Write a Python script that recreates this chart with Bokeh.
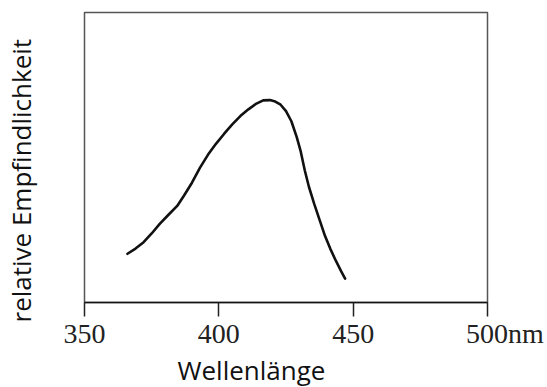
from bokeh.plotting import figure
from bokeh.models import Range1d, LinearAxis, FixedTicker, Title
from bokeh.embed import file_html
from bokeh.resources import INLINE

# data
wavelength_nm = [366, 369, 372, 375, 378, 381, 384.5, 387, 390, 393, 396, 399,
                 402, 405, 408, 411, 414, 416.5, 419, 421, 423, 425, 427, 429,
                 430.5, 432, 433.5, 435.5, 437.5, 439.5, 441.5, 443.5, 445.5, 447]
sensitivity = [16.8, 18.6, 20.8, 23.8, 27.1, 30.0, 33.3, 36.8, 41.3, 46.5, 51.0, 54.8,
               58.2, 61.4, 64.3, 66.6, 68.6, 69.7, 69.8, 69.3, 68.2, 66.0, 62.5, 57.0,
               52.0, 45.5, 40.0, 34.0, 28.5, 23.0, 18.5, 14.5, 10.8, 8.2]
tick_values = [350, 400, 450, 500]
tick_labels = ["350", "400", "450", "\u00a0" * 5 + "500nm"]
x_title = "Wellenlänge"
y_title = "relative Empfindlichkeit"

p = figure(frame_width=403, frame_height=290,
           min_border_left=84, min_border_right=60,
           min_border_top=12, min_border_bottom=84,
           x_range=Range1d(350, 500), y_range=Range1d(0, 100),
           x_axis_location=None, y_axis_location=None,
           output_backend="svg", toolbar_location=None)
p.grid.visible = False
p.outline_line_color = "#555555"
p.outline_line_width = 1.5
p.background_fill_color = "white"
p.border_fill_color = "white"

xaxis = LinearAxis(ticker=FixedTicker(ticks=tick_values),
                   major_label_overrides={t: l for t, l in zip(tick_values, tick_labels)},
                   major_tick_out=14, major_tick_in=0,
                   minor_tick_out=0, minor_tick_in=0,
                   axis_line_color="#111111", axis_line_width=1.5,
                   major_tick_line_color="#222222", major_tick_line_width=1.5,
                   major_label_text_font="Liberation Serif",
                   major_label_text_font_size="28px",
                   major_label_text_color="#222222",
                   major_label_standoff=1)
p.add_layout(xaxis, "below")

# left axis without visible ticks; its tick length only spaces the y title off the frame
spacer = LinearAxis(ticker=FixedTicker(ticks=[0]), major_label_overrides={0: ""},
                    major_tick_out=46, major_tick_in=0,
                    minor_tick_out=0, minor_tick_in=0, axis_line_color=None,
                    major_tick_line_color=None, minor_tick_line_color=None,
                    major_label_standoff=0, major_label_text_font_size="1px")
p.add_layout(spacer, "left")

p.add_layout(Title(text=y_title, align="left", offset=-20, vertical_align="bottom",
                   standoff=0, text_font="Open Sans", text_font_size="26px",
                   text_font_style="normal", text_color="#111111"), "left")

p.add_layout(Title(text=x_title, align="left", offset=93, vertical_align="top",
                   standoff=0, text_font="Open Sans", text_font_size="26px",
                   text_font_style="normal", text_color="#111111"), "below")

p.line(wavelength_nm, sensitivity, line_color="#111111", line_width=2.6,
       line_join="round", line_cap="round")

open("out.html", "w").write(file_html(p, INLINE))
